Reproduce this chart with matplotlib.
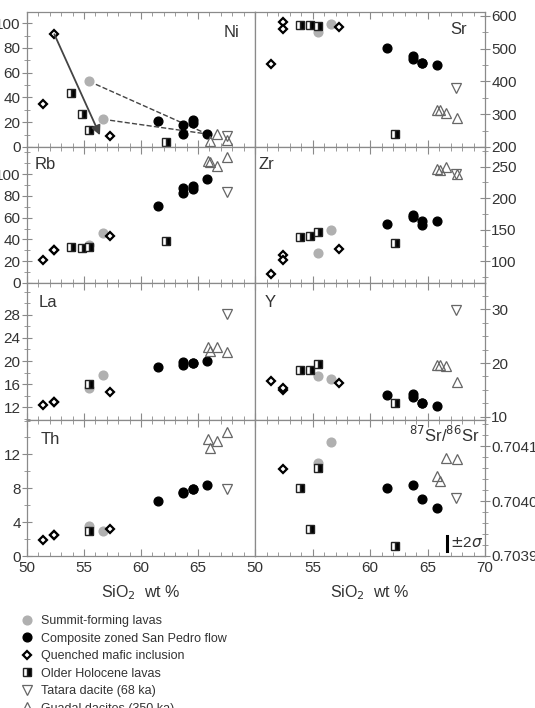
import numpy as np
import matplotlib
matplotlib.use("Agg")
import matplotlib.pyplot as plt
from matplotlib.lines import Line2D
from matplotlib.ticker import MultipleLocator, FixedLocator, FormatStrFormatter

plt.rcParams['font.family'] = ['Liberation Sans', 'DejaVu Sans']
nan = np.nan

# ---- data (SiO2 wt% per sample, element values per sample; nan = not plotted)
summit_sio2 = [55.45, 56.65]
summit = {
    "Ni": [53, 22.4], "Sr": [552, 576], "Rb": [35, 45.5], "Zr": [113, 149],
    "La": [15.3, 17.5], "Y": [17.6, 17.0], "Th": [3.6, 3.0],
    "Sr87": [0.70407, 0.704107],
}

sanpedro_sio2 = [61.45, 63.7, 63.7, 64.55, 64.55, 65.8]
sanpedro = {
    "Ni": [20.8, 17.6, 10.8, 22.2, 19.4, 10.8],
    "Sr": [501, 479, 469, 457, 457, 449],
    "Rb": [71.2, 82.6, 87.7, 86.2, 89.2, 95.4],
    "Zr": [158.5, 173.8, 169.6, 163.3, 158, 164.8],
    "La": [18.9, 19.4, 19.9, 19.7, 19.7, 20.0],
    "Y": [14.0, 14.2, 13.6, 12.6, 12.6, 12.0],
    "Th": [6.47, 7.46, 7.57, 7.9, 7.9, 8.37],
    "Sr87": [0.704024, 0.704029, nan, 0.704004, nan, 0.703988],
}

mafic_sio2 = [51.4, 52.4, 52.4, 57.3]
mafic = {
    "Ni": [34.6, 91, nan, 8.7],
    "Sr": [452, 581, 561, 567],
    "Rb": [21.4, 30.6, 30.6, 42.8],
    "Zr": [80.3, 109.6, 102.8, 120],
    "La": [12.4, 12.9, 12.9, 14.6],
    "Y": [16.6, 15.0, 15.3, 16.3],
    "Th": [1.86, 2.45, 2.45, 3.24],
    "Sr87": [nan, 0.704058, nan, nan],
}

holocene_sio2 = [53.9, 54.8, 55.45, 62.2]
holocene = {
    "Ni": [43.2, 27, 14.1, 4],
    "Sr": [571, 571, 569, 241],
    "Rb": [33.3, 32.1, 33.0, 38.8],
    "Zr": [138, 139.6, 145.9, 129],
    "La": [nan, nan, 16.0, nan],
    "Y": [18.7, 18.7, 19.8, 12.5],
    "Th": [nan, nan, 2.96, nan],
    "Sr87": [0.704024, 0.70395, 0.704061, 0.703919],
}

tatara_sio2 = [67.5]
tatara = {
    "Ni": [9.2], "Sr": [381], "Rb": [83.5], "Zr": [238], "La": [28.1],
    "Y": [29.9], "Th": [7.9], "Sr87": [0.704006],
}

guadal_sio2 = [65.85, 66.05, 66.65, 67.55]
guadal = {
    "Ni": [nan, 4.9, 10.3, 5.4],
    "Sr": [312, 312, 303, 290],
    "Rb": [112.5, 111.6, 107.9, 115.6],
    "Zr": [246.4, 244.8, 249, 238.5],
    "La": [22.5, 21.8, 22.5, 21.5],
    "Y": [19.6, 19.6, 19.5, 16.5],
    "Th": [13.8, 12.8, 13.6, 14.7],
    "Sr87": [0.704045, 0.704036, 0.704079, 0.704076],
}

# tick values shown on each panel
left_x_ticks = [50, 55, 60, 65]
right_x_ticks = [50, 55, 60, 65, 70]
ni_ticks = [0, 20, 40, 60, 80, 100]
sr_ticks = [200, 300, 400, 500, 600]
rb_ticks = [0, 20, 40, 60, 80, 100]
zr_ticks = [100, 150, 200, 250]
la_ticks = [12, 16, 20, 24, 28]
y_ticks = [10, 20, 30]
th_ticks = [0, 4, 8, 12]
sr87_ticks = [0.7039, 0.7040, 0.7041]

# panel layout: element, column, row, ylim, ticks, minor step, label (x, y, ha)
panels = [
    ("Ni", 0, 0, (0, 109), ni_ticks, 10, (0.93, 0.85, "right")),
    ("Sr", 1, 0, (200, 612), sr_ticks, 50, (0.92, 0.87, "right")),
    ("Rb", 0, 1, (0, 125), rb_ticks, 10, (0.035, 0.87, "left")),
    ("Zr", 1, 1, (66, 281), zr_ticks, 25, (0.015, 0.87, "left")),
    ("La", 0, 2, (9.8, 33.5), la_ticks, 2, (0.05, 0.86, "left")),
    ("Y", 1, 2, (9.4, 34.9), y_ticks, 2.5, (0.043, 0.86, "left")),
    ("Th", 0, 3, (0, 16.06), th_ticks, 2, (0.06, 0.86, "left")),
    ("Sr87", 1, 3, (0.7039, 0.704148), sr87_ticks, 0.00002, (0.975, 0.89, "right")),
]

W, H = 535, 708
col_x = [27, 255, 485]
row_y = [12, 147, 283, 420, 556]

edge = "#8a8a8a"
txt = "#333333"

styles = [
    (summit_sio2, summit, dict(marker="o", ms=6.3, mfc="#b0b0b0", mec="#b0b0b0", ls="none")),
    (sanpedro_sio2, sanpedro, dict(marker="o", ms=6.3, mfc="black", mec="black", ls="none")),
    (mafic_sio2, mafic, dict(marker="D", ms=4.2, mfc="white", mec="black", mew=1.6, ls="none")),
    (holocene_sio2, holocene, dict(marker="s", ms=5.8, fillstyle="right", mfc="black",
                                   mfcalt="white", mec="#222222", mew=1.0, ls="none")),
    (tatara_sio2, tatara, dict(marker="v", ms=7, mfc="none", mec="#666666", mew=0.9, ls="none")),
    (guadal_sio2, guadal, dict(marker="^", ms=7, mfc="none", mec="#666666", mew=0.9, ls="none")),
]

fig = plt.figure(figsize=(W / 100, H / 100), dpi=100)

for elem, col, row, ylim, ticks, minor, (lx, ly, lha) in panels:
    x0, x1 = col_x[col] / W, col_x[col + 1] / W
    y1, y0 = 1 - row_y[row] / H, 1 - row_y[row + 1] / H
    ax = fig.add_axes([x0, y0, x1 - x0, y1 - y0])
    for xs, d, st in styles:
        ax.plot(xs, d[elem], **st)
    ax.set_xlim(50, 70)
    ax.set_ylim(*ylim)
    ax.xaxis.set_major_locator(FixedLocator(left_x_ticks if col == 0 else right_x_ticks))
    ax.xaxis.set_minor_locator(MultipleLocator(1))
    ax.yaxis.set_major_locator(FixedLocator(ticks))
    ax.yaxis.set_minor_locator(MultipleLocator(minor))
    for s in ax.spines.values():
        s.set_color(edge)
        s.set_linewidth(0.9)
    ax.tick_params(axis="x", which="both", direction="in", top=True, bottom=True,
                   color=edge, labelsize=11, labelcolor=txt, labelbottom=(row == 3))
    ax.tick_params(axis="x", which="major", length=5)
    ax.tick_params(axis="x", which="minor", length=3)
    if col == 0:
        ax.tick_params(axis="y", which="both", direction="inout", left=True, right=False,
                       labelleft=True, labelright=False, color=edge, labelsize=11,
                       labelcolor=txt, pad=1)
    else:
        ax.tick_params(axis="y", which="both", direction="inout", left=False, right=True,
                       labelleft=False, labelright=True, color=edge, labelsize=11,
                       labelcolor=txt, pad=1)
    ax.tick_params(axis="y", which="major", length=7)
    ax.tick_params(axis="y", which="minor", length=4)
    if elem == "Sr87":
        ax.yaxis.set_major_formatter(FormatStrFormatter("%.4f"))
        name = r"$^{87}$Sr/$^{86}$Sr"
    else:
        ax.yaxis.set_major_formatter(FormatStrFormatter("%g"))
        name = elem
    ax.text(lx, ly, name, transform=ax.transAxes, ha=lha, va="center",
            fontsize=12, color=txt)

    if elem == "Ni":
        ax.annotate("", xy=(56.4, 9.5), xytext=(52.4, 91),
                    arrowprops=dict(arrowstyle="-|>", color="#444444", lw=1.3,
                                    mutation_scale=14, shrinkA=0, shrinkB=0))
        for sx, sy in zip(summit_sio2, summit["Ni"]):
            ax.plot([sx, 65.8], [sy, 10.5], ls="--", color="#444444", lw=1.0, zorder=1)
    if elem == "Sr87":
        ax.plot([66.7, 66.7], [0.70391, 0.703937], color="black", lw=2.2)
        ax.text(67.0, 0.703923, r"$\pm$2$\sigma$", ha="left", va="center",
                fontsize=11, color=txt)

for col in range(2):
    cx = (col_x[col] + col_x[col + 1]) / 2 / W
    fig.text(cx, 1 - 593 / H, r"SiO$_2$  wt %", ha="center", va="center",
             fontsize=11.5, color=txt)

labels = ["Summit-forming lavas", "Composite zoned San Pedro flow",
          "Quenched mafic inclusion", "Older Holocene lavas",
          "Tatara dacite (68 ka)", "Guadal dacites (350 ka)"]
handles = [Line2D([], [], **st) for _, _, st in styles]
fig.legend(handles, labels, loc="upper left", bbox_to_anchor=(0.025, 1 - 609 / H),
           frameon=False, fontsize=9, labelspacing=0.44, handletextpad=0.5,
           handlelength=1.2, borderpad=0, labelcolor=txt)

fig.savefig("out.png", dpi=100)
